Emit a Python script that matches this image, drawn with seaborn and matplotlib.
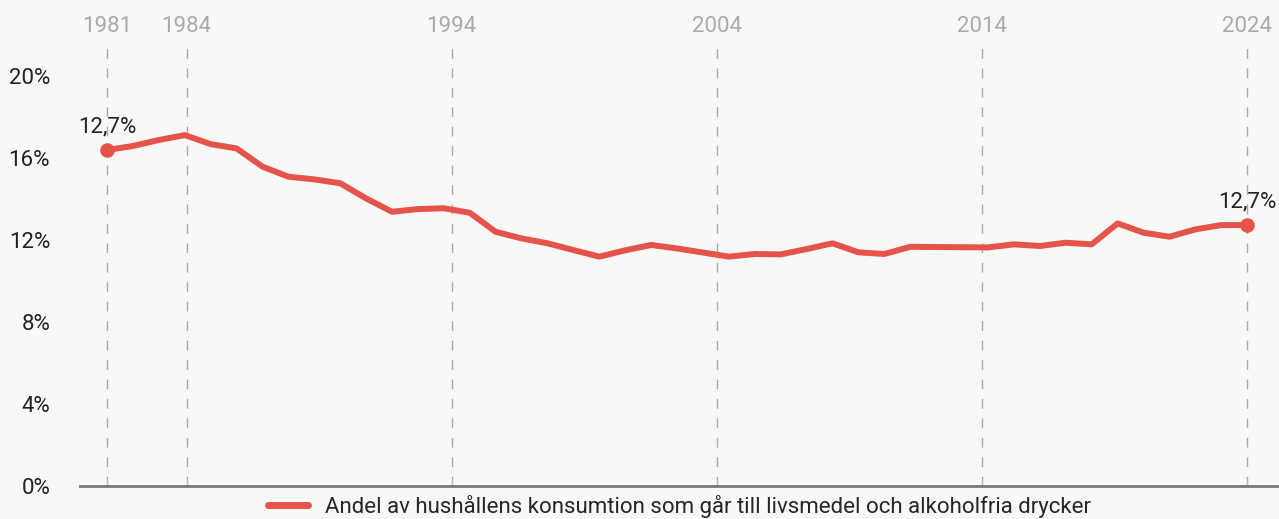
import numpy as np
import matplotlib
matplotlib.use("Agg")
import matplotlib.pyplot as plt
import pandas as pd
import seaborn as sns

# share of household consumption spent on food and non-alcoholic drinks (%), 45 observations
andel = [16.39, 16.59, 16.88, 17.12, 16.68, 16.47, 15.58, 15.09, 14.96, 14.77,
         14.03, 13.38, 13.51, 13.55, 13.33, 12.40, 12.08, 11.84, 11.51, 11.19,
         11.50, 11.76, 11.59, 11.39, 11.19, 11.32, 11.30, 11.56, 11.84, 11.40,
         11.32, 11.67, 11.66, 11.65, 11.64, 11.79, 11.71, 11.87, 11.79, 12.81,
         12.36, 12.16, 12.52, 12.73, 12.73]
start_year = 1981
end_year = 2024
tick_years = [1981, 1984, 1994, 2004, 2014, 2024]
y_ticks = [0, 4, 8, 12, 16, 20]
y_labels = ["0%", "4%", "8%", "12%", "16%", "20%"]
label_text = "12,7%"
series_name = "Andel av hushållens konsumtion som går till livsmedel och alkoholfria drycker"

df = pd.DataFrame({"x": np.linspace(start_year, end_year, len(andel)), "andel": andel})

red = "#e5534a"
bg = "#f8f8f6"
fs = 16

sns.set_style("white", {"axes.facecolor": bg, "figure.facecolor": bg})
plt.rcParams["font.family"] = ["Roboto", "DejaVu Sans"]

fig = plt.figure(figsize=(12.79, 5.19), dpi=100)
ax = fig.add_axes([80 / 1279, 33 / 519, 1 - 80 / 1279, 446 / 519])

sns.lineplot(data=df, x="x", y="andel", color=red, linewidth=4.3, ax=ax,
             label=series_name, solid_capstyle="round")

# end markers + labels
ends = df.iloc[[0, -1]]
ax.scatter(ends["x"], ends["andel"], s=110, color=red, zorder=5, linewidths=0)
for xv, yv in zip(ends["x"], ends["andel"]):
    ax.annotate(label_text, (xv, yv), xytext=(0, 17), textcoords="offset points",
                ha="center", va="center", fontsize=fs, color="#222222")

ax.set_xlim(1979.98, 2025.2)
ax.set_ylim(0, 21.76)
ax.set_xticks(tick_years)
ax.set_xticklabels([str(y) for y in tick_years])
ax.set_yticks(y_ticks)
ax.set_yticklabels(y_labels)
ax.tick_params(axis="x", bottom=True, top=False, labelbottom=False, labeltop=True,
               direction="in", length=4, width=0.8, color="#bbbbbb",
               labelsize=fs, labelcolor="#aaaaaa", pad=2)
ax.tick_params(axis="y", left=False, labelsize=fs, labelcolor="#222222", pad=18)

ax.grid(axis="x", color="#aaaaaa", linestyle=(0, (7, 7)), linewidth=1)
ax.grid(axis="y", visible=False)

for side in ["top", "right", "left"]:
    ax.spines[side].set_visible(False)
ax.spines["bottom"].set_color("#777777")
ax.spines["bottom"].set_linewidth(2)

ax.set_xlabel("")
ax.set_ylabel("")

leg = ax.legend(loc="center", bbox_to_anchor=(0.5, -20 / 446), ncol=1, frameon=False,
                fontsize=fs, handlelength=1.8, handletextpad=0.8, borderaxespad=0)
for h in leg.get_lines():
    h.set_linewidth(5)
    h.set_solid_capstyle("round")

fig.savefig("out.png", dpi=100, facecolor=bg)
